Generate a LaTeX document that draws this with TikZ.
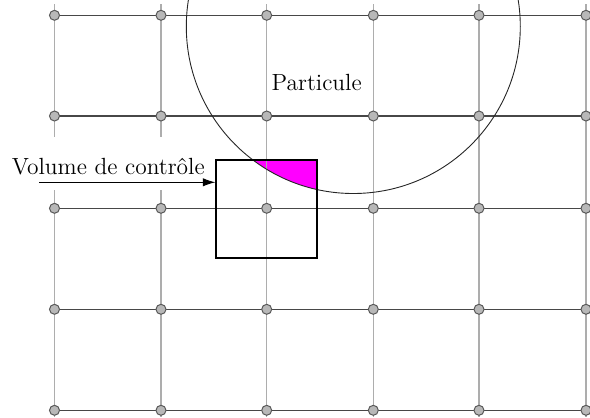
\documentclass[tikz,border=0pt]{standalone}
\usepackage{fontspec}
\usetikzlibrary{arrows.meta}
\definecolor{overlap}{RGB}{255,0,255}

\begin{document}
\begin{tikzpicture}[x=0.5pt, y=-0.5pt,
	hline/.style={line width=0.6pt, draw=black!72},
	vline/.style={line width=0.6pt, draw=black!32},
	pnode/.style={circle, draw=black!65, fill=black!28, line width=0.5pt, minimum size=5pt, inner sep=0pt},
	cvbox/.style={draw, line width=1pt, minimum width=50.3pt, minimum height=49.2pt, inner sep=0pt},
	lbl/.style={font=\fontsize{11.7pt}{13.5pt}\selectfont, inner sep=0pt},
	>={Latex[length=6.3pt, width=4.2pt]}]
	\useasboundingbox (0,0) rectangle (590,418);
	\clip (0,0) rectangle (590,418);
	% overlap of particle and control volume
	\coordinate (pc) at (353.3,26.5);
	\coordinate (cvsw) at (216.7,258.3);
	\coordinate (cvne) at (317.3,160);
	\begin{scope}
		\clip (cvsw) rectangle (cvne);
		\fill[overlap] (pc) circle[radius=83.5pt];
	\end{scope}
	% mesh
	\foreach \x in {54.5,161,266.7,373.3,479,586}
		\draw[vline] (\x,4.3) -- (\x,417);
	\foreach \y in {15.3,116,208.3,309.3,410.3}
		\draw[hline] (54.5,\y) -- (586,\y);
	\draw[line width=0.45pt, black!85] (pc) circle[radius=83.5pt];
	\foreach \x [count=\i] in {54.5,161,266.7,373.3,479,586}
		\foreach \y [count=\j] in {15.3,116,208.3,309.3,410.3}
			\node[pnode] (n\i\j) at (\x,\y) {};
	\node[lbl, anchor=base] (part) at (316.7,90.7) {Particule};
	\node[lbl, anchor=base, fill=white, text height=10.3pt, text depth=0pt, inner xsep=3pt, inner ysep=8.1pt] (vol) at (108.3,174) {Volume de contrôle};
	\node[cvbox] (cv) at (266.7,209.2) {};
	\coordinate (as) at (39,182.3);
	\draw[->, line width=0.5pt] (as) -- (cv.west |- as);
\end{tikzpicture}
\end{document}
